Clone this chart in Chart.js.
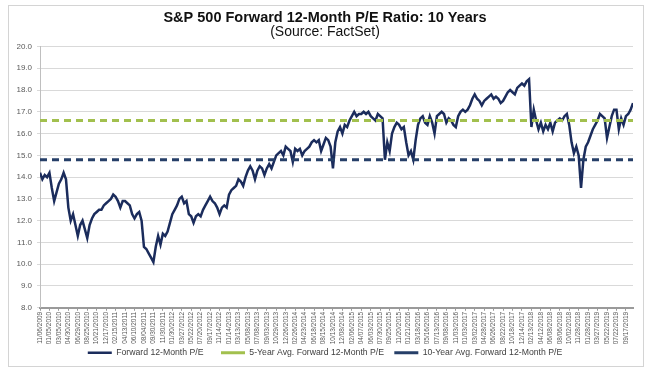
<!DOCTYPE html>
<html>
<head>
<meta charset="utf-8">
<script src="https://cdn.jsdelivr.net/npm/chart.js@4.4.0/dist/chart.umd.min.js"></script>
<style>
    html, body { margin: 0; padding: 0; background: #fff; }
    #wrap { position: relative; width: 650px; height: 372px; }
    #frame { position: absolute; left: 8px; top: 5px; width: 636px; height: 362px; border: 1px solid #d4d4d4; box-sizing: border-box; pointer-events: none; }
</style>
</head>
<body>
<div id="wrap">
    <canvas id="pe-chart" width="650" height="372"></canvas>
    <div id="frame"></div>
</div>
<script>
// axis labels, one every 4 samples (samples are ~2 weeks apart)
const tickDates = [
    '11/06/2009', '01/05/2010', '03/05/2010', '04/30/2010', '06/29/2010', '08/25/2010', '10/21/2010', '12/17/2010',
    '02/15/2011', '04/13/2011', '06/10/2011', '08/04/2011', '09/30/2011', '11/30/2011', '01/30/2012', '03/27/2012',
    '05/22/2012', '07/20/2012', '09/17/2012', '11/14/2012', '01/14/2013', '03/13/2013', '05/08/2013', '07/08/2013',
    '09/03/2013', '10/29/2013', '12/26/2013', '02/26/2014', '04/23/2014', '06/18/2014', '08/15/2014', '10/13/2014',
    '12/08/2014', '02/06/2015', '04/07/2015', '06/03/2015', '07/30/2015', '09/25/2015', '11/20/2015', '01/21/2016',
    '03/18/2016', '05/16/2016', '07/13/2016', '09/08/2016', '11/03/2016', '01/03/2017', '03/02/2017', '04/28/2017',
    '06/26/2017', '08/22/2017', '10/18/2017', '12/14/2017', '02/13/2018', '04/12/2018', '06/08/2018', '08/06/2018',
    '10/02/2018', '11/28/2018', '01/28/2019', '03/27/2019', '05/22/2019', '07/22/2019', '09/17/2019'
];

const forwardPE = [
    14.2, 13.9, 14.1, 14.0,  14.2, 13.5, 12.9, 13.3,  13.7, 13.9, 14.2, 13.9,  12.6, 12.0, 12.3, 11.8,
    11.3, 11.8, 12.0, 11.6,  11.2, 11.8, 12.1, 12.3,  12.4, 12.5, 12.5, 12.7,  12.8, 12.9, 13.0, 13.2,
    13.1, 12.9, 12.6, 12.9,  12.9, 12.8, 12.7, 12.3,  12.1, 12.3, 12.4, 12.0,  10.8, 10.7, 10.5, 10.3,
    10.1, 10.8, 11.3, 10.9,  11.4, 11.3, 11.5, 11.9,  12.3, 12.5, 12.7, 13.0,  13.1, 12.8, 12.9, 12.3,
    12.2, 11.9, 12.2, 12.3,  12.2, 12.5, 12.7, 12.9,  13.1, 12.9, 12.8, 12.6,  12.3, 12.6, 12.7, 12.6,
    13.2, 13.4, 13.5, 13.6,  13.9, 13.8, 13.6, 14.0,  14.3, 14.5, 14.3, 13.9,  14.3, 14.5, 14.4, 14.1,
    14.4, 14.6, 14.4, 14.7,  15.0, 15.1, 15.2, 15.0,  15.4, 15.3, 15.2, 14.7,  15.3, 15.2, 15.3, 15.0,
    15.2, 15.3, 15.4, 15.6,  15.7, 15.6, 15.7, 15.2,  15.5, 15.8, 15.7, 15.4,  14.4, 15.6, 16.1, 16.3,
    16.0, 16.4, 16.3, 16.6,  16.8, 17.0, 16.8, 16.9,  16.9, 17.0, 16.9, 17.0,  16.8, 16.7, 16.6, 16.9,
    16.8, 16.7, 14.8, 15.6,  15.2, 16.0, 16.3, 16.5,  16.4, 16.2, 16.3, 15.6,  15.0, 15.2, 14.8, 15.7,
    16.4, 16.7, 16.8, 16.5,  16.4, 16.8, 16.5, 16.0,  16.8, 16.9, 17.0, 16.9,  16.5, 16.7, 16.6, 16.4,
    16.3, 16.8, 17.0, 17.1,  17.0, 17.1, 17.3, 17.6,  17.8, 17.6, 17.5, 17.3,  17.5, 17.6, 17.7, 17.8,
    17.6, 17.7, 17.6, 17.4,  17.5, 17.7, 17.9, 18.0,  17.9, 17.8, 18.1, 18.2,  18.3, 18.2, 18.4, 18.5,
    16.3, 17.1, 16.6, 16.2,  16.5, 16.1, 16.4, 16.2,  16.5, 16.1, 16.5, 16.6,  16.7, 16.6, 16.8, 16.9,
    16.4, 15.6, 15.1, 15.4,  15.0, 13.5, 14.8, 15.4,  15.6, 15.9, 16.2, 16.4,  16.6, 16.9, 16.8, 16.7,
    15.8, 16.3, 16.8, 17.1,  17.1, 16.2, 16.7, 16.4,  16.8, 16.9, 17.1, 17.4
];

const avgLabels = ['5-Year Avg. Forward 12-Month P/E', '10-Year Avg. Forward 12-Month P/E'];
const avgValues = [16.6, 14.8];

const FONT = "'Liberation Sans', Arial, sans-serif";
const lastIdx = forwardPE.length - 1;
const legendGap = ['      ', '   ', ''];

function flatLine(v) {
    return [{ x: 0, y: v }, { x: lastIdx, y: v }];
}

new Chart(document.getElementById('pe-chart'), {
    type: 'line',
    data: {
        datasets: [{
            label: 'Forward 12-Month P/E',
            data: forwardPE.map((v, i) => ({ x: i, y: v })),
            borderColor: '#1b2c5c',
            backgroundColor: '#1b2c5c',
            borderWidth: 2.5,
            pointRadius: 0,
            tension: 0,
            order: 2
        }, {
            label: avgLabels[0],
            data: flatLine(avgValues[0]),
            borderColor: '#a2c04e',
            backgroundColor: '#a2c04e',
            borderWidth: 3,
            borderDash: [7, 5],
            pointRadius: 0,
            order: 1
        }, {
            label: avgLabels[1],
            data: flatLine(avgValues[1]),
            borderColor: '#263f68',
            backgroundColor: '#263f68',
            borderWidth: 3,
            borderDash: [7, 5],
            pointRadius: 0,
            order: 1
        }]
    },
    options: {
        responsive: false,
        animation: false,
        layout: { padding: { left: 17, right: 17, top: 0, bottom: 5 } },
        scales: {
            x: {
                type: 'linear',
                min: 0,
                max: lastIdx,
                border: { color: '#9a9a9a', width: 2 },
                grid: { drawOnChartArea: false, drawTicks: true, tickLength: 3, color: '#9a9a9a' },
                ticks: {
                    stepSize: 4,
                    includeBounds: false,
                    autoSkip: false,
                    minRotation: 90,
                    maxRotation: 90,
                    padding: 1,
                    color: '#595959',
                    font: { family: FONT, size: 6.5 },
                    callback: (value) => value % 4 === 0 ? tickDates[value / 4] : ''
                }
            },
            y: {
                min: 8,
                max: 20,
                afterFit: (scale) => { scale.width = 23; },
                border: { color: '#bfbfbf' },
                grid: { color: '#d9d9d9', tickLength: 3 },
                ticks: {
                    stepSize: 1,
                    padding: 5,
                    color: '#595959',
                    font: { family: FONT, size: 8 },
                    callback: (value) => value.toFixed(1)
                }
            }
        },
        plugins: {
            title: {
                display: true,
                text: 'S&P 500 Forward 12-Month P/E Ratio: 10 Years',
                color: '#111',
                font: { family: FONT, size: 14.5, weight: 'bold', lineHeight: 1 },
                padding: { top: 11, bottom: 0 }
            },
            subtitle: {
                display: true,
                text: '(Source: FactSet)',
                color: '#111',
                font: { family: FONT, size: 14, lineHeight: 1 },
                padding: { top: 0, bottom: 7 }
            },
            legend: {
                position: 'bottom',
                labels: {
                    usePointStyle: true,
                    pointStyle: 'line',
                    pointStyleWidth: 24,
                    boxHeight: 8,
                    padding: 3,
                    color: '#404040',
                    font: { family: FONT, size: 8.7 },
                    sort: (a, b) => a.datasetIndex - b.datasetIndex,
                    // pad item text on the right so the entries sit apart like the original
                    generateLabels: (chart) => {
                        const items = Chart.defaults.plugins.legend.labels.generateLabels(chart);
                        items.forEach((item) => {
                            item.text = item.text + legendGap[item.datasetIndex];
                        });
                        return items;
                    }
                }
            },
            tooltip: { enabled: false }
        }
    }
});
</script>
</body>
</html>
